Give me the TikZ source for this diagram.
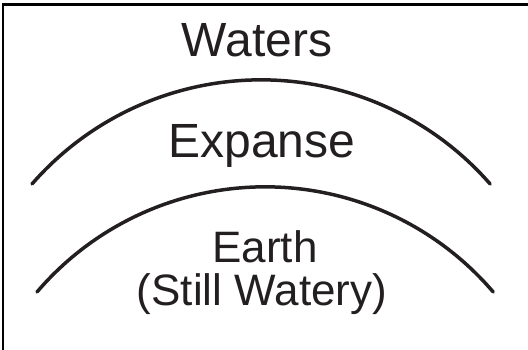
\documentclass[tikz,border=0pt]{standalone}
\usepackage{fontspec}
\setmainfont{Liberation Sans}
\definecolor{ink}{RGB}{35,31,32}
\begin{document}
\begin{tikzpicture}[x=1pt,y=1pt,
  lbl/.style={anchor=base,inner sep=0pt,font=\fontsize{48}{54}\selectfont,text=ink},
  lblsmall/.style={lbl,font=\fontsize{44}{50}\selectfont},
  arcline/.style={line width=3.5pt,draw=ink,line cap=round}]
\useasboundingbox (0,0) rectangle (528,349);
\draw[line width=2.5pt] (3,-2) -- (3,344.5) -- (530,344.5);
\draw[arcline] (32,165) arc[start angle=138.9,end angle=41.1,radius=304];
\draw[arcline] (37,57) arc[start angle=139.5,end angle=40.5,radius=300];
\node[lbl] (waters) at (257,292) {Waters};
\node[lbl] (expanse) at (262,192) {Expanse};
\node[lblsmall] (earth) at (265,87) {Earth};
\node[lblsmall] (still) at (262,44) {(Still Watery)};
\end{tikzpicture}
\end{document}
